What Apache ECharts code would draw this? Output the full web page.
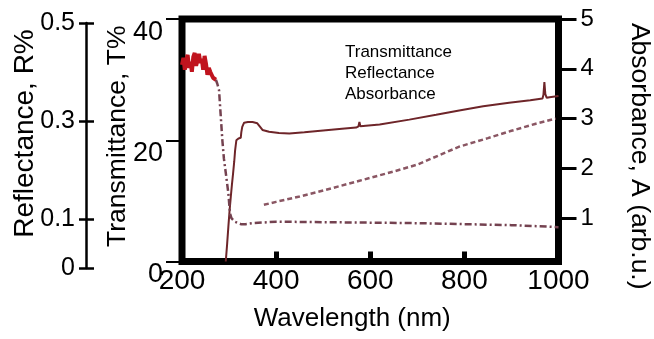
<!DOCTYPE html>
<html>
<head>
<meta charset="utf-8">
<script src="https://cdn.jsdelivr.net/npm/echarts@6/dist/echarts.min.js"></script>
<style>
html,body{margin:0;padding:0;background:#fff;}
#chart{width:654px;height:339px;}
</style>
</head>
<body>
<div id="chart"></div>
<script>
// ---- data ----
const xTicks = [200, 400, 600, 800, 1000];
const tTicks = [0, 20, 40];
const rTicks = [0, 0.1, 0.3, 0.5];
const aTicks = [1, 2, 3, 4, 5];

const tWave  = [293, 296, 298.5, 301, 303.6, 306, 308.5, 311, 312.8, 315.5, 320, 324.8, 326, 328, 332, 340, 350, 360, 366, 371, 385, 406, 428, 460, 500, 540, 570, 575, 577, 579, 583, 620, 683, 740, 789, 840, 895, 940, 966, 968, 970, 972, 975, 981, 1000];
const tValue = [0, 3, 5.7, 8.3, 10.6, 12.6, 14.5, 16.5, 18.3, 20.0, 20.3, 20.4, 21.3, 22.2, 22.9, 23.0, 23.0, 22.8, 22.2, 21.7, 21.4, 21.2, 21.1, 21.3, 21.6, 21.9, 22.1, 22.3, 23.0, 22.3, 22.2, 22.6, 23.4, 24.2, 24.9, 25.6, 26.2, 26.6, 26.9, 27.5, 29.6, 27.6, 27.0, 27.1, 27.3];

const rWave  = [374, 400, 450, 500, 577, 650, 700, 789, 850, 900, 950, 994];
const rValue = [0.129, 0.135, 0.146, 0.158, 0.178, 0.197, 0.211, 0.2476, 0.265, 0.28, 0.294, 0.305];

const aUvWave  = [200, 203, 206, 209, 212, 215, 218, 221, 224, 227, 230, 233, 236, 239, 242, 245, 248, 251, 254, 257, 260, 263, 266, 269, 272];
const aUvValue = [4.08, 4.22, 3.98, 4.18, 4.28, 4.02, 4.14, 3.94, 4.24, 4.32, 4.06, 4.18, 4.30, 4.12, 4.20, 3.98, 4.26, 4.10, 3.88, 4.02, 3.94, 3.98, 3.82, 3.86, 3.78];

const aWave  = [272, 275, 278.7, 282, 285.7, 289, 293, 298.5, 302, 305, 307, 312, 317, 325, 335, 350, 400, 500, 600, 700, 800, 900, 980, 1000];
const aValue = [3.78, 3.7, 3.57, 3.1, 2.57, 2.2, 1.91, 1.5, 1.1, 1.0, 0.96, 0.93, 0.91, 0.88, 0.88, 0.9, 0.93, 0.92, 0.91, 0.9, 0.88, 0.86, 0.83, 0.82];

const zip = (xs, ys) => xs.map((x, i) => [x, ys[i]]);

const FONT = 'Liberation Sans, Arial, Helvetica, sans-serif';
const chart = echarts.init(document.getElementById('chart'), null, {renderer: 'canvas'});

chart.setOption({
  animation: false,
  backgroundColor: '#fff',
  textStyle: {fontFamily: FONT, color: '#000'},
  legend: {
    data: ['Transmittance', 'Reflectance', 'Absorbance'],
    orient: 'vertical',
    left: 335, top: 39,
    icon: 'none', itemWidth: 0, itemHeight: 17, itemGap: 4,
    selectedMode: false,
    textStyle: {fontSize: 17, color: '#000', fontFamily: FONT}
  },
  grid: [
    {left: 182, right: 95.5, top: 19, bottom: 77.5, show: true, borderColor: '#000', borderWidth: 7,
     backgroundColor: 'transparent', containLabel: false, outerBoundsMode: 'none'},
    {left: 182, right: 95.5, top: 23, bottom: 71, show: false, containLabel: false, outerBoundsMode: 'none'}
  ],
  xAxis: [
    {
      type: 'value', gridIndex: 0, min: 200, max: 1000, interval: 200,
      name: 'Wavelength (nm)', nameLocation: 'middle', nameGap: 44, nameMoveOverlap: false,
      nameTextStyle: {fontSize: 26, color: '#000', padding: [0, 36, 0, 0]},
      axisLine: {show: false},
      axisTick: {show: true, inside: true, length: 10, lineStyle: {color: '#000', width: 5}},
      axisLabel: {show: true, margin: 6, fontSize: 28, color: '#000',
                  customValues: xTicks, formatter: v => String(v)},
      splitLine: {show: false}
    },
    {type: 'value', gridIndex: 1, min: 200, max: 1000, show: false}
  ],
  yAxis: [
    {
      type: 'value', gridIndex: 0, position: 'left', min: 0, max: 40, interval: 20,
      name: 'Transmittance, T%', nameLocation: 'middle', nameGap: 51, nameMoveOverlap: false,
      nameTextStyle: {fontSize: 26.5, color: '#000', padding: [0, 0, 0, 8]},
      axisLine: {show: false},
      axisTick: {show: true, length: 16, lineStyle: {color: '#000', width: 2}, customValues: tTicks},
      axisLabel: {margin: 19, fontSize: 27, color: '#000', verticalAlign: 'top', customValues: tTicks},
      splitLine: {show: false}
    },
    {
      type: 'value', gridIndex: 0, position: 'right', min: 0.13, max: 5,
      name: 'Absorbance, A (arb.u.)', nameLocation: 'middle', nameGap: 67, nameRotate: -90, nameMoveOverlap: false,
      nameTextStyle: {fontSize: 26.5, color: '#000', padding: [0, 0, 0, 32]},
      axisLine: {show: false},
      axisTick: {show: true, length: 18, lineStyle: {color: '#000', width: 3}, customValues: aTicks},
      axisLabel: {margin: 22, fontSize: 24, color: '#000', customValues: aTicks},
      splitLine: {show: false}
    },
    {
      type: 'value', gridIndex: 1, position: 'left', offset: 96, min: 0, max: 0.5,
      name: 'Reflectance, R%', nameLocation: 'middle', nameGap: 47, nameMoveOverlap: false,
      nameTextStyle: {fontSize: 28, color: '#000', padding: [0, 0, 0, 24]},
      axisLine: {show: true, lineStyle: {color: '#000', width: 2.5}},
      axisTick: {show: true, length: 7, lineStyle: {color: '#000', width: 2.5}, customValues: rTicks},
      axisLabel: {margin: 11, fontSize: 25, color: '#000', customValues: rTicks},
      splitLine: {show: false}
    },
    {
      type: 'value', gridIndex: 1, position: 'left', offset: 96, min: 0, max: 0.5,
      axisLine: {show: false},
      axisTick: {show: true, inside: true, length: 8, lineStyle: {color: '#000', width: 2.5}, customValues: rTicks},
      axisLabel: {show: false},
      splitLine: {show: false}
    }
  ],
  series: [
    {
      name: 'Transmittance', type: 'line', xAxisIndex: 0, yAxisIndex: 0,
      data: zip(tWave, tValue), symbol: 'none', smooth: false,
      lineStyle: {color: '#6e2529', width: 2}, itemStyle: {color: '#6e2529'}
    },
    {
      name: 'Reflectance', type: 'line', xAxisIndex: 1, yAxisIndex: 2,
      data: zip(rWave, rValue), symbol: 'none',
      lineStyle: {color: '#8a5663', width: 2.5, type: [5, 3]}, itemStyle: {color: '#8a5663'}
    },
    {
      name: 'Absorbance', type: 'line', xAxisIndex: 0, yAxisIndex: 1,
      data: zip(aWave, aValue), symbol: 'none',
      lineStyle: {color: '#744250', width: 2.5, type: [7, 3, 2, 3]}, itemStyle: {color: '#744250'}
    },
    {
      name: 'Absorbance', type: 'line', xAxisIndex: 0, yAxisIndex: 1,
      data: zip(aUvWave, aUvValue), symbol: 'none',
      lineStyle: {color: '#c0141e', width: 4}, itemStyle: {color: '#c0141e'}
    }
  ]
});
</script>
</body>
</html>
